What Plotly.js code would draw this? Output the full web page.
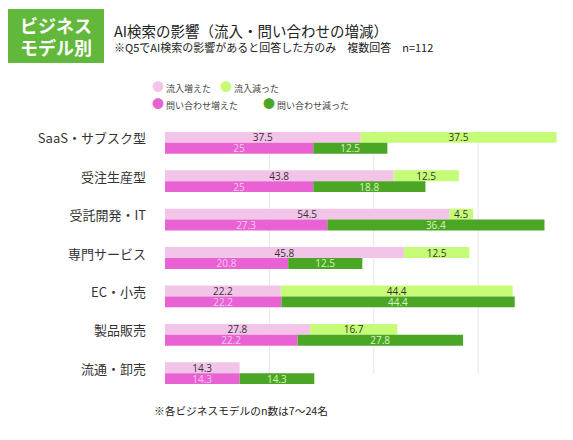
<!DOCTYPE html>
<html>
<head>
<meta charset="utf-8">
<script src="https://cdn.plot.ly/plotly-3.0.1.min.js"></script>
<style>html,body{margin:0;padding:0;background:#fff;}#chart{width:573px;height:440px;}</style>
</head>
<body>
<div id="chart"></div>
<script>
const categories = ["SaaS・サブスク型", "受注生産型", "受託開発・IT", "専門サービス", "EC・小売", "製品販売", "流通・卸売"];
// printed values
const inflowUp = [37.5, 43.8, 54.5, 45.8, 22.2, 27.8, 14.3];
const inflowDown = [37.5, 12.5, 4.5, 12.5, 44.4, 16.7, 0];
const inquiryUpLabel = [25, 25, 27.3, 20.8, 22.2, 22.2, 14.3];
const inquiryDownLabel = [12.5, 18.8, 36.4, 12.5, 44.4, 27.8, 14.3];
// bar lengths as drawn in the reference (the inquiry bars are drawn longer than their labels)
const inquiryUpLen = [28.4, 28.4, 31.1, 23.6, 22.3, 25.4, 14.3];
const inquiryDownLen = [14.2, 21.5, 41.6, 14.2, 44.7, 31.7, 14.3];
const seriesNames = ["流入増えた", "流入減った", "問い合わせ増えた", "問い合わせ減った"];
const colors = ["#f2c4e8", "#c6fb78", "#e862d4", "#4ca626"];
const textColors = ["#333333", "#333333", "#f8c8f0", "#d6f5bd"];

const W = 573, H = 440;
const L = 165, R = 570, T = 119, B = 397;
const px = p => (p - L) / (R - L);
const py = q => (B - q) / (B - T);
const BW = 0.284;
const lbl = arr => arr.map(v => v > 0 ? String(v) : "");
const font = "'Noto Sans CJK JP', 'Noto Sans', sans-serif";
const numFont = "'Open Sans', 'Noto Sans', sans-serif";

function barTrace(vals, labels, base, idx, offset) {
  return {
    type: "bar", orientation: "h", y: categories, x: vals,
    base: base, offset: offset, width: BW,
    marker: {color: colors[idx], line: {width: 0}},
    text: lbl(labels), textposition: "inside", insidetextanchor: "middle", textangle: 0,
    textfont: {family: numFont, size: 10, color: textColors[idx]},
    constraintext: "none", cliponaxis: false,
    showlegend: false, hoverinfo: "skip", name: seriesNames[idx]
  };
}
const zeros = categories.map(() => 0);
const traces = [
  barTrace(inflowUp, inflowUp, zeros, 0, -BW),
  barTrace(inflowDown, inflowDown, inflowUp, 1, -BW),
  barTrace(inquiryUpLen, inquiryUpLabel, zeros, 2, 0),
  barTrace(inquiryDownLen, inquiryDownLabel, inquiryUpLen, 3, 0)
];

const gridX = [20, 40, 60];
const shapes = gridX.map(g => ({
  type: "line", xref: "x", yref: "paper", x0: g, x1: g, y0: py(374), y1: py(131),
  line: {color: "#e6e6e6", width: 1}, layer: "below"
}));
shapes.push({
  type: "rect", xref: "paper", yref: "paper", x0: px(8), x1: px(104), y0: py(63), y1: py(9),
  fillcolor: "#62b83a", line: {width: 0}
});

const legendPos = [[150, 86], [218, 86], [150, 104], [261, 104]];
const annotations = [
  {text: "ビジネス", x: px(56), y: py(25), xref: "paper", yref: "paper", showarrow: false,
   xanchor: "center", yanchor: "middle", font: {family: font, size: 18, color: "#ffffff", weight: "bold"}},
  {text: "モデル別", x: px(56), y: py(47), xref: "paper", yref: "paper", showarrow: false,
   xanchor: "center", yanchor: "middle", font: {family: font, size: 18, color: "#ffffff", weight: "bold"}},
  {text: "AI検索の影響（流入・問い合わせの増減）", x: px(112), y: py(30), xref: "paper", yref: "paper", showarrow: false,
   xanchor: "left", yanchor: "middle", font: {family: font, size: 14.5, color: "#222222"}},
  {text: "※Q5でAI検索の影響があると回答した方のみ　複数回答　n=112", x: px(112), y: py(47), xref: "paper", yref: "paper", showarrow: false,
   xanchor: "left", yanchor: "middle", font: {family: font, size: 11, color: "#222222"}},
  {text: "※各ビジネスモデルのn数は7〜24名", x: px(152), y: py(410), xref: "paper", yref: "paper", showarrow: false,
   xanchor: "left", yanchor: "middle", font: {family: font, size: 10.7, color: "#222222"}}
];
seriesNames.forEach((n, i) => {
  annotations.push({
    text: '<span style="color:' + colors[i] + ';font-size:12px">●</span> ' + n,
    x: px(legendPos[i][0]), y: py(legendPos[i][1]), xref: "paper", yref: "paper", showarrow: false,
    xanchor: "left", yanchor: "middle", font: {family: font, size: 9, color: "#444444"}
  });
});

const layout = {
  width: W, height: H,
  margin: {l: L, r: W - R, t: T, b: H - B, pad: 0},
  paper_bgcolor: "#ffffff", plot_bgcolor: "#ffffff",
  barmode: "overlay", showlegend: false,
  xaxis: {range: [0, (R - L) / 5.22], showgrid: false, zeroline: false, showticklabels: false, ticks: "", fixedrange: true},
  yaxis: {type: "category", range: [6.62, -0.62], showgrid: false, zeroline: false, ticks: "",
          ticklabelstandoff: 18, ticklabelshift: 4, tickfont: {family: font, size: 13, color: "#333333"}},
  shapes: shapes,
  annotations: annotations
};

Plotly.newPlot("chart", traces, layout, {displayModeBar: false, staticPlot: true});
</script>
</body>
</html>
